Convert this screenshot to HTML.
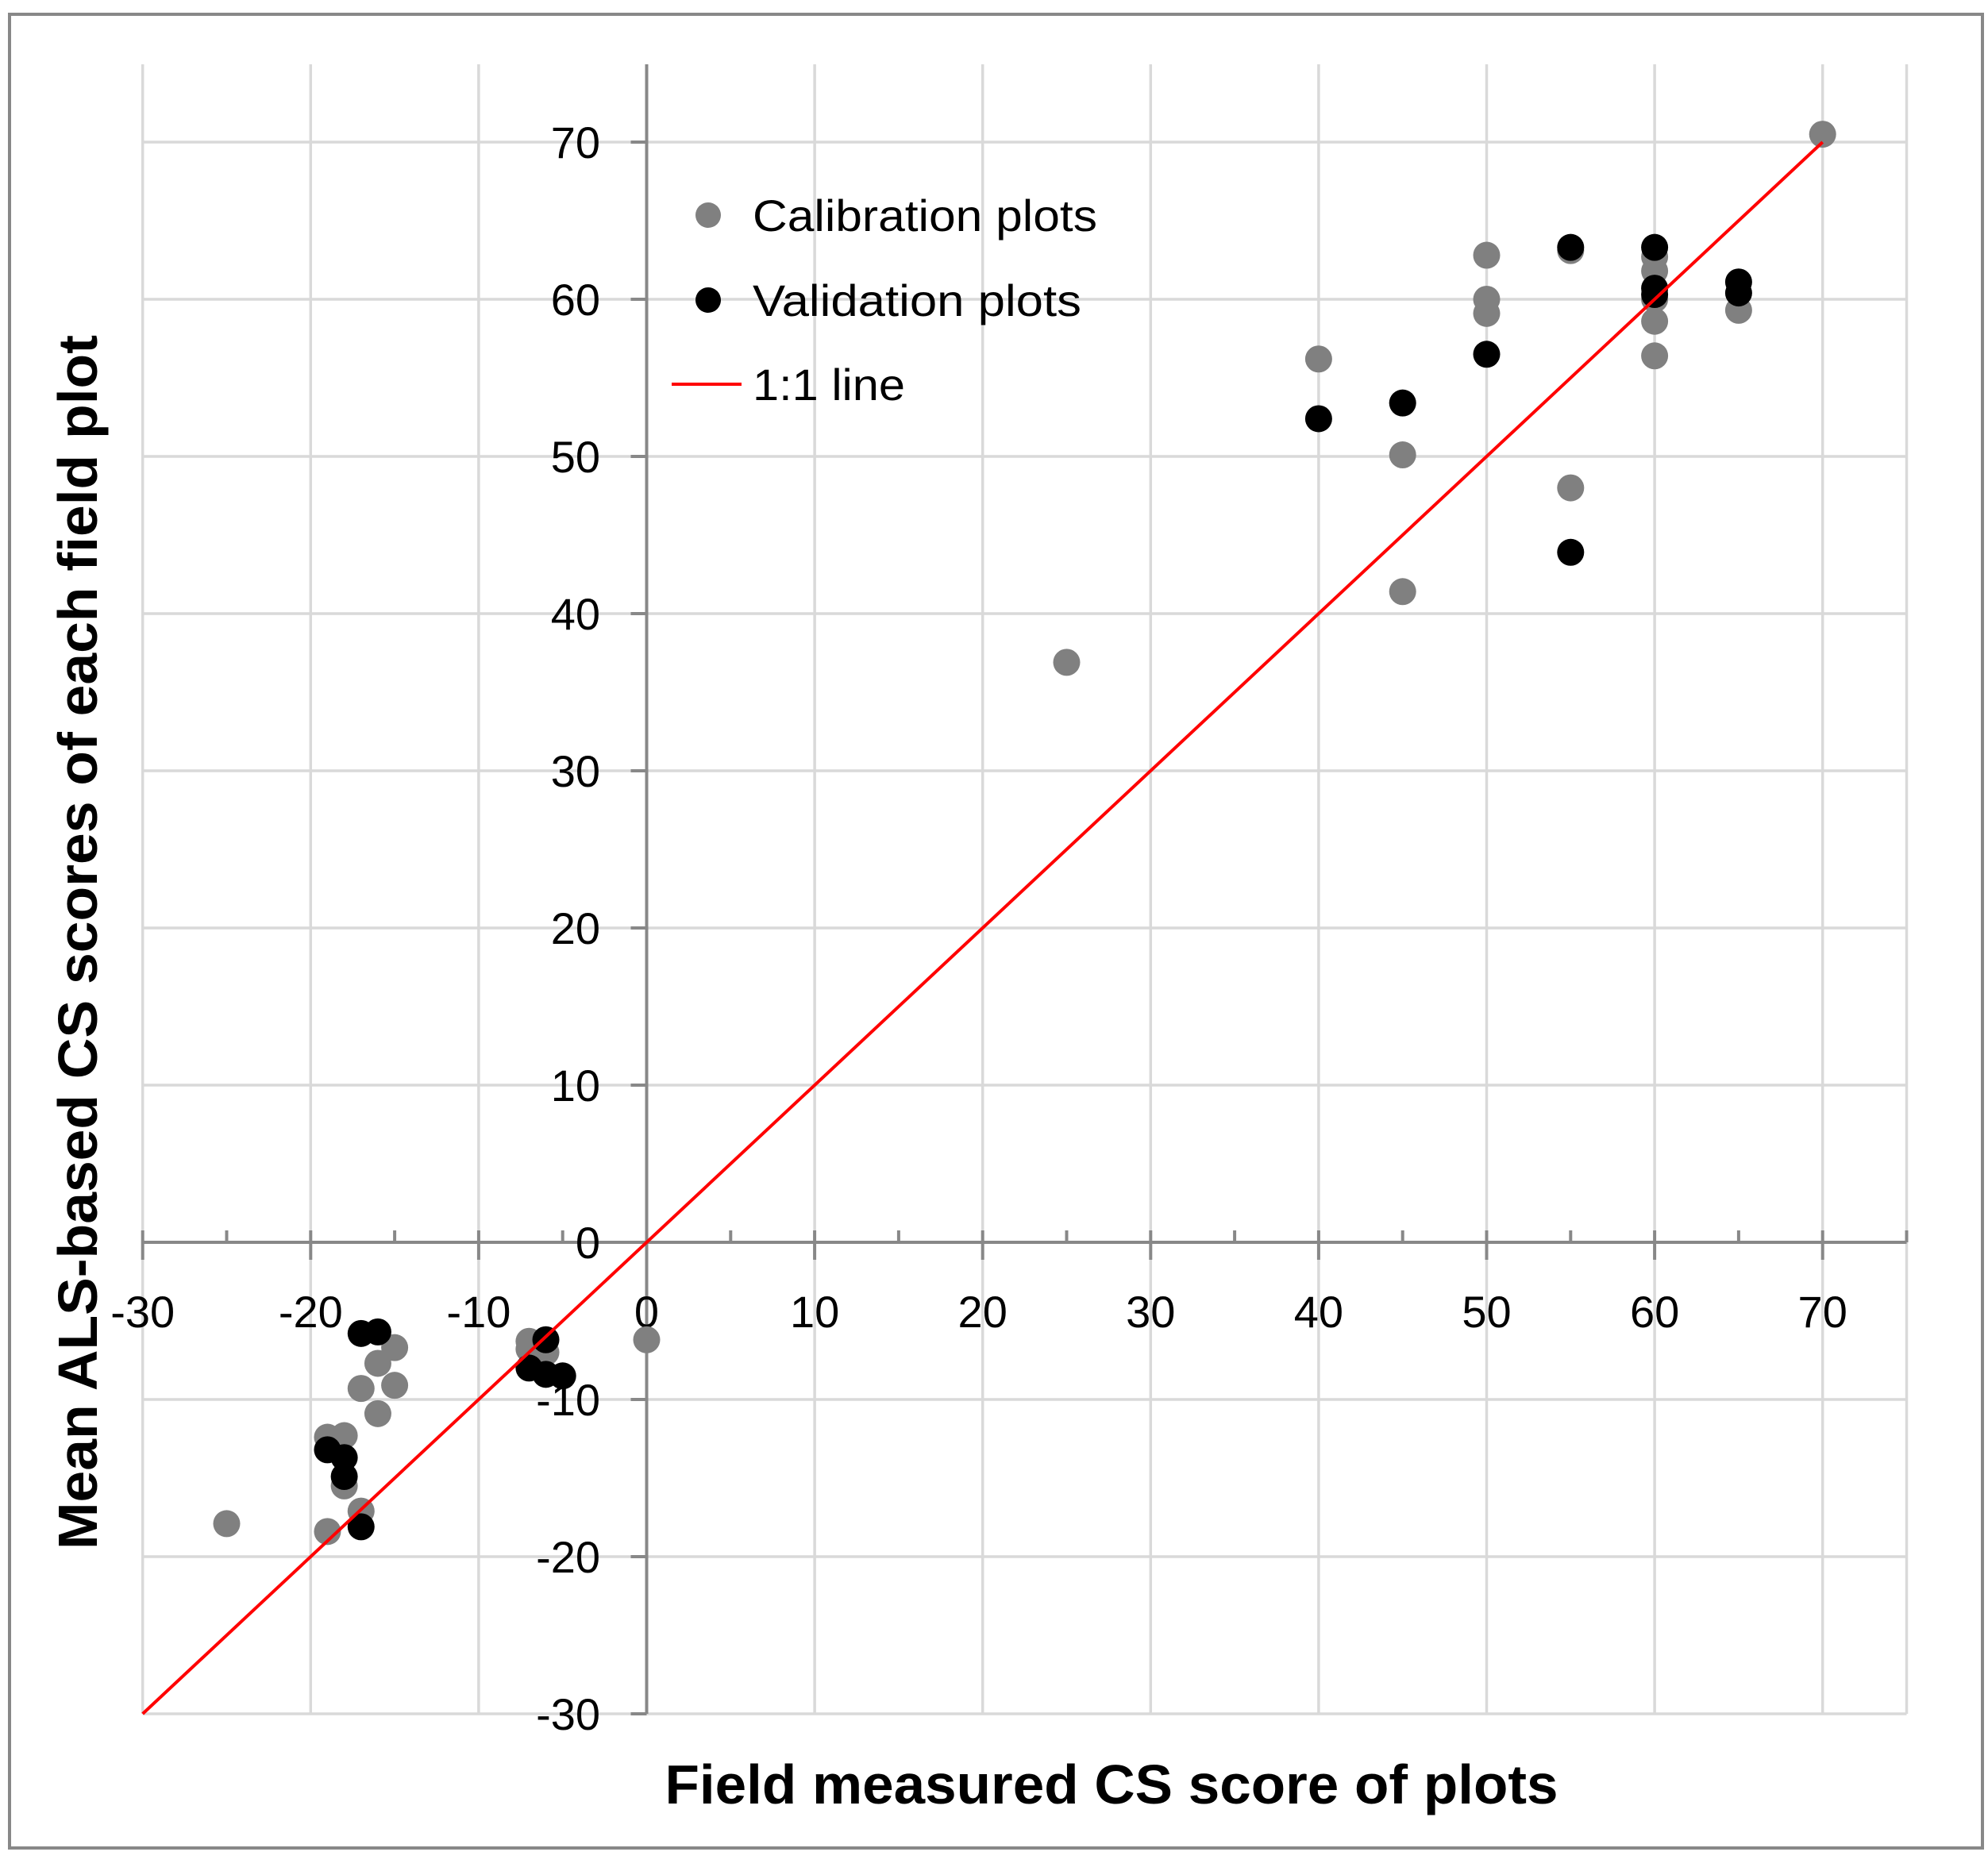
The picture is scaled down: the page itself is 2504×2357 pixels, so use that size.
<!DOCTYPE html>
<html><head><meta charset="utf-8"><style>
html,body{margin:0;padding:0;background:#fff;}
svg{display:block;font-family:"Liberation Sans",sans-serif;}
</style></head><body>
<svg id="chart" width="2504" height="2357" viewBox="0 0 2504 2357" xmlns="http://www.w3.org/2000/svg">
<rect x="12" y="18" width="2485" height="2310" fill="#fff" stroke="#888" stroke-width="4"/>
<g id="grid"></g>
<g id="axes"></g>
<g id="marks"></g>
<text x="1400" y="2272" font-size="70" font-weight="bold" text-anchor="middle" textLength="1125" lengthAdjust="spacingAndGlyphs">Field measured CS score of plots</text>
<text transform="translate(122,1187) rotate(-90)" font-size="70" font-weight="bold" text-anchor="middle" textLength="1530" lengthAdjust="spacingAndGlyphs">Mean ALS-based CS scores of each field plot</text>
<g>
<circle cx="892" cy="271" r="16" fill="#808080"/>
<text x="948" y="291" font-size="56" textLength="434" lengthAdjust="spacingAndGlyphs">Calibration plots</text>
<circle cx="892" cy="378" r="16" fill="#000"/>
<text x="948" y="398" font-size="56" textLength="414" lengthAdjust="spacingAndGlyphs">Validation plots</text>
<line x1="846" y1="484" x2="934" y2="484" stroke="#f00" stroke-width="4"/>
<text x="948" y="504" font-size="56" textLength="192" lengthAdjust="spacingAndGlyphs">1:1 line</text>
</g>
</svg>
<script>
const xTicks=[-30,-20,-10,0,10,20,30,40,50,60,70];
const yTicks=[-30,-20,-10,0,10,20,30,40,50,60,70];
const calX=[70,40,45,45,50,50,50,55,55,60,60,60,60,60,65,25,-25,-15,-16,-17,-15,-16,-19,-18,-18,-17,-19,-7,-7,-6,0];
const calY=[70.5,56.2,50.1,41.4,62.8,60.0,59.1,63.1,48.0,62.7,61.8,60.0,58.6,56.4,59.3,36.9,-17.9,-6.7,-7.7,-9.3,-9.1,-10.9,-12.4,-12.3,-15.5,-17.1,-18.4,-6.3,-6.8,-7.0,-6.2];
const valX=[40,45,50,55,55,60,60,60,65,65,-17,-16,-19,-18,-18,-17,-6,-7,-6,-5];
const valY=[52.4,53.4,56.5,63.3,43.9,63.3,60.7,60.3,61.1,60.4,-5.8,-5.7,-13.2,-13.7,-14.9,-18.1,-6.2,-8.0,-8.4,-8.5];
const lineX=[-30,70];
const NS="http://www.w3.org/2000/svg";
const X=v=>814.5+v*21.16, Y=v=>1565-v*19.8;
function mk(tag,attrs,parent){const e=document.createElementNS(NS,tag);for(const k in attrs)e.setAttribute(k,attrs[k]);parent.appendChild(e);return e;}
const grid=document.getElementById('grid'),axes=document.getElementById('axes'),marks=document.getElementById('marks');
xTicks.forEach(t=>{if(t===0)return;const l=mk('line',{x1:X(t),x2:X(t),y1:81,y2:Y(-30),stroke:'#d9d9d9','stroke-width':3.5},grid);

});
mk('line',{x1:X(75),x2:X(75),y1:81,y2:Y(-30),stroke:'#d9d9d9','stroke-width':3.5},grid);
yTicks.forEach(t=>{if(t===0)return;const l=mk('line',{x1:X(-30),x2:X(75),y1:Y(t),y2:Y(t),stroke:'#d9d9d9','stroke-width':3.5},grid);

});
const xa=mk('line',{x1:X(-30),x2:X(75),y1:Y(0),y2:Y(0),stroke:'#888','stroke-width':4},axes);


const ya=mk('line',{x1:X(0),x2:X(0),y1:81,y2:Y(-30),stroke:'#888','stroke-width':4},axes);


for(let v=-30;v<=75;v+=5){mk('line',{x1:X(v),x2:X(v),y1:Y(0)-15,y2:Y(0)+(v%10===0?22:0),stroke:'#888','stroke-width':4},axes);}
yTicks.forEach(t=>{mk('line',{x1:X(0)-20,x2:X(0),y1:Y(t),y2:Y(t),stroke:'#888','stroke-width':4},axes);});
xTicks.forEach(t=>{const s=mk('text',{x:X(t),y:1672,'font-size':56,'text-anchor':'middle'},axes);s.textContent=t;

});
yTicks.forEach(t=>{const s=mk('text',{x:756,y:Y(t)+20,'font-size':56,'text-anchor':'end'},axes);s.textContent=t;

});
calX.forEach((x,i)=>{const c=mk('circle',{cx:X(x),cy:Y(calY[i]),r:17,fill:'#808080'},marks);

});
valX.forEach((x,i)=>{const c=mk('circle',{cx:X(x),cy:Y(valY[i]),r:17,fill:'#000'},marks);

});
const ln=mk('line',{x1:X(lineX[0]),y1:Y(lineX[0]),x2:X(lineX[1]),y2:Y(lineX[1]),stroke:'#f00','stroke-width':4},marks);


</script>
</body></html>
